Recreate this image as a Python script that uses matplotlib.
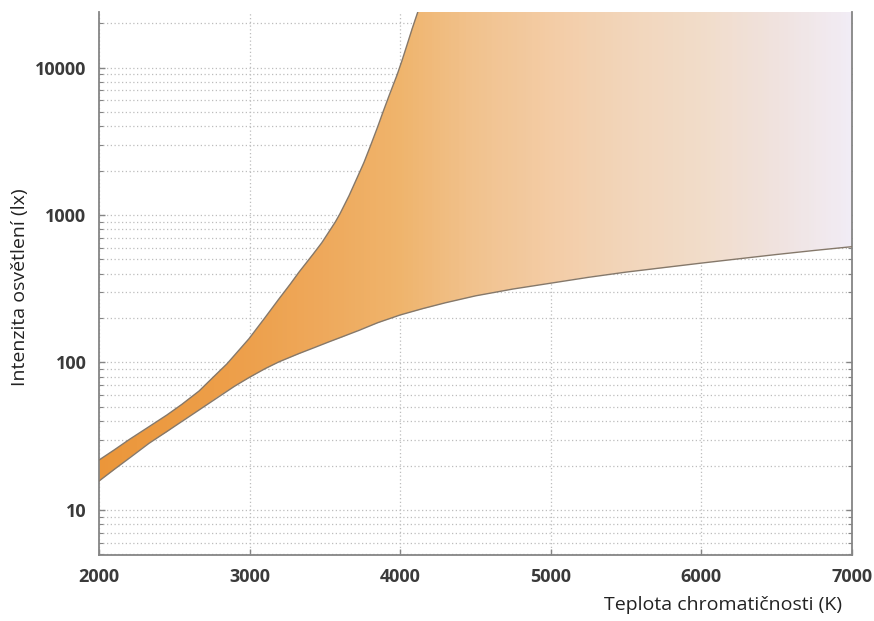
import numpy as np
import matplotlib
matplotlib.use("Agg")
import matplotlib.pyplot as plt
from matplotlib.colors import LinearSegmentedColormap
from matplotlib.ticker import LogLocator, FixedLocator, NullFormatter

plt.rcParams['font.family'] = ['Open Sans', 'DejaVu Sans']

# upper bound of the comfortable zone
upper_T = [2000, 2100, 2200, 2332, 2450, 2550, 2664, 2750, 2850, 2996, 3100, 3195,
           3270, 3328, 3420, 3480, 3527, 3570, 3600, 3660, 3713, 3760, 3800, 3850,
           3886, 3930, 3979, 4010, 4045, 4080, 4118, 4160]
upper_lx = [21.8, 25.5, 30, 36.7, 44, 52, 64, 78, 98, 145, 200, 270,
            340, 410, 540, 650, 770, 900, 1020, 1350, 1780, 2280, 2900, 3950,
            5000, 6600, 8900, 11000, 14200, 18400, 24000, 32000]

# lower bound
lower_T = [2000, 2100, 2200, 2332, 2450, 2550, 2664, 2800, 2900, 2996, 3100, 3195,
           3328, 3420, 3527, 3620, 3726, 3850, 4000, 4150, 4300, 4500, 4750, 5000,
           5250, 5500, 5750, 6000, 6250, 6500, 6750, 7000]
lower_lx = [15.7, 18.8, 22.4, 28.3, 34, 39.8, 47.6, 59, 69, 79, 90.5, 101,
            115, 125, 138, 150, 165, 186, 210, 232, 254, 283, 315, 345,
            378, 410, 440, 472, 505, 540, 575, 610]

# colour of the band across the temperature range
grad_T = [2000, 3000, 3500, 4000, 4500, 5000, 5500, 6000, 6500, 7000]
grad_colors = ['#EB963A', '#EDA04C', '#EEA95C', '#EFB46C', '#F1C28E',
               '#F3CCA5', '#F2D5BA', '#F1DCC9', '#F0E2DE', '#F1ECF5']

x_ticks = [2000, 3000, 4000, 5000, 6000, 7000]
y_ticks = [10, 100, 1000, 10000]

y_lo, y_hi = 4.95, 23800
x_lo, x_hi = 2000, 7000

fig = plt.figure(figsize=(8.74, 6.21), dpi=100)
ax = fig.add_axes([99 / 874, 66 / 621, 753 / 874, 543 / 621])
ax.set_yscale('log')
ax.set_xlim(x_lo, x_hi)
ax.set_ylim(y_lo, y_hi)

# polygon of the band (upper curve, along the top, back along the lower curve)
poly_x = upper_T + [x_hi] + lower_T[::-1]
poly_y = upper_lx + [upper_lx[-1]] + lower_lx[::-1]
band = ax.fill(poly_x, poly_y, facecolor='none', edgecolor='none', zorder=2)[0]

stops = [(t - x_lo) / (x_hi - x_lo) for t in grad_T]
cmap = LinearSegmentedColormap.from_list('kruithof', list(zip(stops, grad_colors)))
xe = np.linspace(x_lo, x_hi, 401)
xc = (xe[:-1] + xe[1:]) / 2
mesh = ax.pcolormesh(xe, [y_lo, upper_lx[-1]], xc[np.newaxis, :], cmap=cmap,
                     vmin=x_lo, vmax=x_hi, shading='flat', zorder=2,
                     rasterized=True, edgecolors='none')
mesh.set_clip_path(band)

edge = '#85786A'
ax.plot(upper_T, upper_lx, color=edge, lw=1.0, zorder=3)
ax.plot(lower_T, lower_lx, color=edge, lw=1.0, zorder=3)

# grid
ax.xaxis.set_major_locator(FixedLocator(x_ticks))
ax.yaxis.set_major_locator(FixedLocator(y_ticks))
ax.yaxis.set_minor_locator(LogLocator(base=10, subs=np.arange(2, 10)))
ax.yaxis.set_minor_formatter(NullFormatter())
ax.set_yticklabels([str(v) for v in y_ticks])
ax.set_xticklabels([str(v) for v in x_ticks])
ax.grid(True, axis='x', which='major', color='#BDBDBD', ls=(0, (1, 2)), lw=0.9, zorder=0)
ax.grid(True, axis='y', which='both', color='#BDBDBD', ls=(0, (1, 2)), lw=0.9, zorder=0)
ax.set_axisbelow(True)

spine_c = '#858585'
for s in ['left', 'bottom', 'right']:
    ax.spines[s].set_color(spine_c)
    ax.spines[s].set_linewidth(1.3)
ax.spines['top'].set_visible(False)

ax.tick_params(axis='both', which='major', direction='in', length=4.5, width=1,
               color=spine_c, labelsize=13, labelcolor='#3A3A3A', pad=9)
ax.tick_params(axis='y', which='both', right=True, direction='in', color=spine_c)
ax.tick_params(axis='y', which='minor', length=3, width=0.8)
for lab in ax.get_xticklabels() + ax.get_yticklabels():
    lab.set_fontweight('bold')

fig.text(842 / 874, 1 - 605 / 621, 'Teplota chromatičnosti (K)', ha='right', va='center',
         fontsize=14, color='#222222')
fig.text(20 / 874, 1 - 287 / 621, 'Intenzita osvětlení (lx)', ha='center', va='center',
         rotation=90, fontsize=14, color='#222222')

fig.savefig('out.png', dpi=100)
